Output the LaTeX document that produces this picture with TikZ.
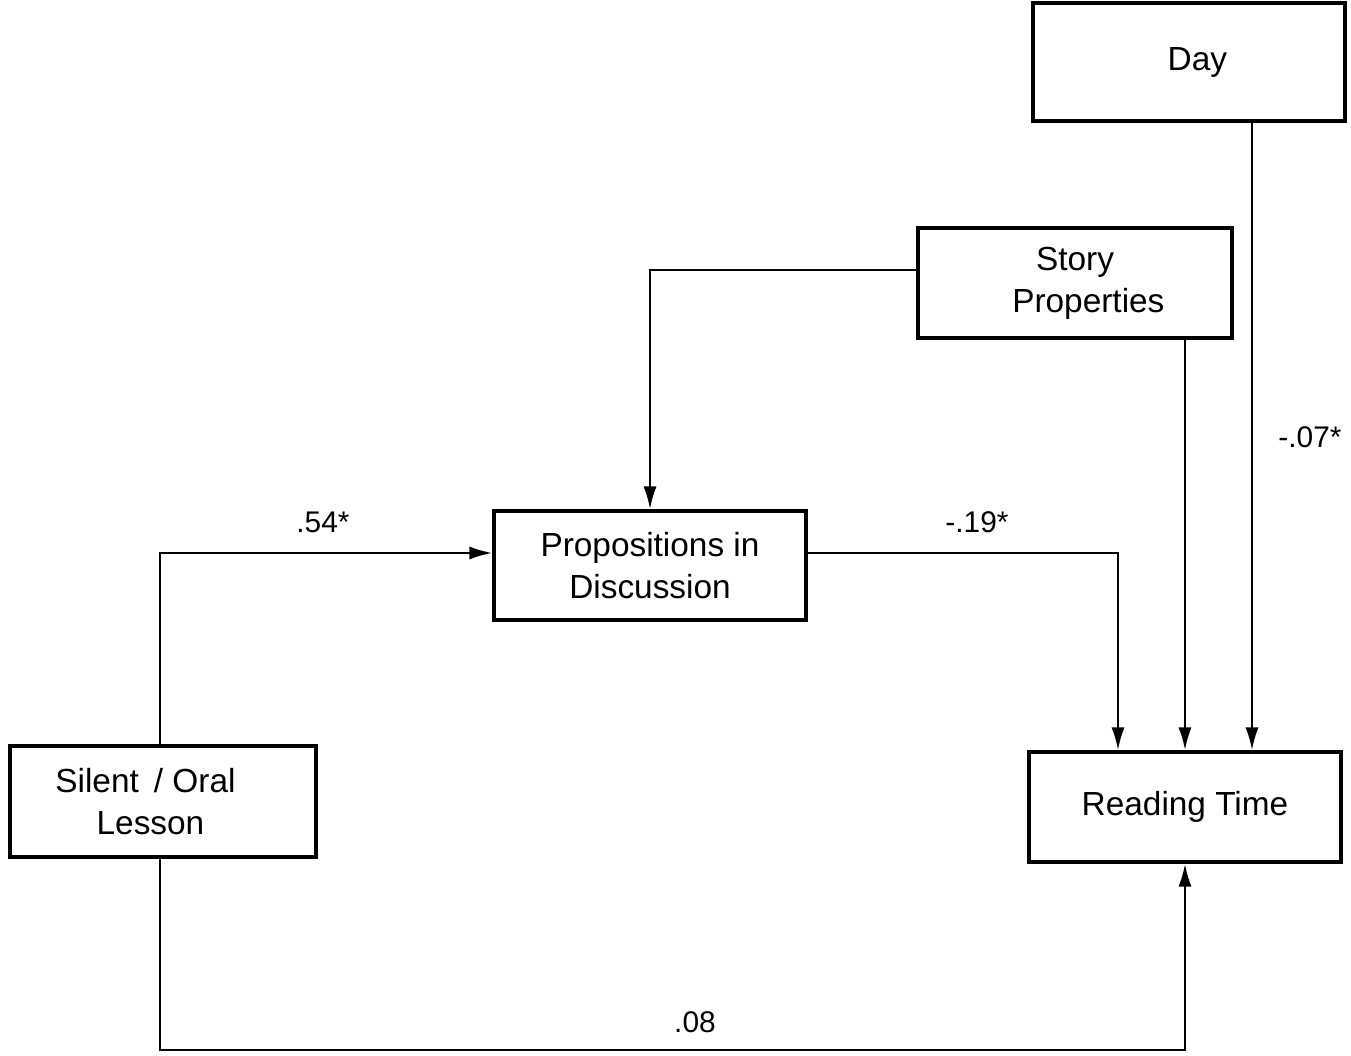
\documentclass[tikz,border=0pt]{standalone}
\usepackage{fontspec}
\setmainfont{Liberation Sans}
\usetikzlibrary{arrows.meta,positioning,calc}

\begin{document}
\begin{tikzpicture}[
  box/.style={draw, line width=2pt, rectangle, minimum width=6.24cm, minimum height=2.2cm,
              align=center, font=\fontsize{19}{24}\selectfont},
  link/.style={line width=1.4pt, -{Latex[length=13pt,width=7.5pt]}},
  coef/.style={font=\fontsize{17}{20}\selectfont}
]
  \useasboundingbox (0,0) rectangle (27.02,21.1);

  % Variables
  \node[box, minimum height=2.36cm] (day) at (23.78,19.86) {\hspace*{0.5em}Day};
  \node[box, minimum width=6.28cm] (story) at (21.5,15.44) {Story\\\hspace*{0.8em}Properties};
  \node[box, minimum height=2.18cm] (prop) at (13.0,9.79) {Propositions in\\Discussion};
  \node[box, minimum width=6.12cm, minimum height=2.22cm] (lesson) at (3.26,5.07)
    {Silent\hspace{0.45em}/ Oral\hspace*{1.05em}\\Lesson\hspace*{0.75em}};
  \node[box] (read) at (23.7,4.96) {Reading Time};

  % Paths
  \coordinate (low) at (0,0.1);
  \draw[link] ([yshift=0.26cm]story.west) -| (prop.north);
  \draw[link] (read.north |- story.south) -- (read.north);
  \draw[link] ([xshift=1.34cm]read.north |- day.south) -- ([xshift=1.34cm]read.north);
  \draw[link] ([yshift=0.25cm]prop.east) -| ([xshift=-1.34cm]read.north);
  \draw[link] ([xshift=-0.06cm]lesson.north) |- ([yshift=0.25cm]prop.west);
  \draw[link] ([xshift=-0.06cm]lesson.south) -- ([xshift=-0.06cm]lesson.south |- low) -| (read.south);

  % Coefficients
  \node[coef] (c54) at (6.46,10.66) {.54*};
  \node[coef] (c19) at (19.54,10.66) {-.19*};
  \node[coef] (c07) at (26.2,12.36) {-.07*};
  \node[coef] (c08) at (13.9,0.66) {.08};
\end{tikzpicture}
\end{document}
